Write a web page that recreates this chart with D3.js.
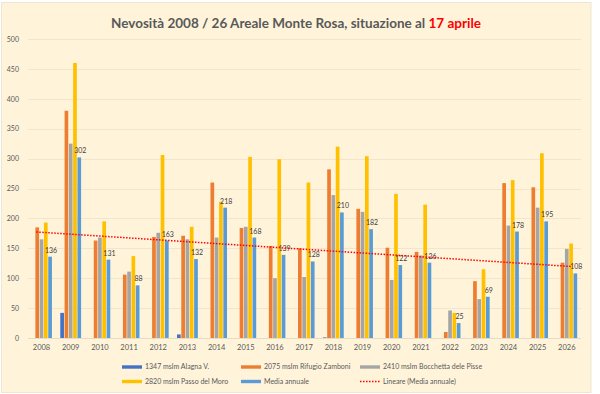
<!DOCTYPE html>
<html>
<head>
<meta charset="utf-8">
<script src="https://cdn.jsdelivr.net/npm/d3@7"></script>
<style>
  body { margin: 0; background: #fff; }
  text { font-family: Lato, "Noto Sans", sans-serif; }
</style>
</head>
<body>
<div id="chart"></div>
<script>
// dati
let years = ['2008', '2009', '2010', '2011', '2012', '2013', '2014', '2015', '2016', '2017',
    '2018', '2019', '2020', '2021', '2022', '2023', '2024', '2025', '2026']
let alagna = [0, 42, 0, 0, 0, 6, 0, 0, 0, 0, 1, 0, 0, 0, 0, 0, 0, 0, 0]
let zamboni = [185, 380, 163, 106, 169, 171, 260, 184, 154, 150, 282, 216, 151, 144, 10, 95, 259, 252, 126]
let pisse = [165, 325, 168, 111, 176, 165, 168, 186, 100, 102, 239, 211, 97, 138, 46, 65, 188, 218, 149]
let moro = [193, 460, 195, 137, 306, 186, 228, 303, 299, 260, 320, 304, 241, 223, 42, 115, 264, 309, 158]
let media = [136, 302, 131, 88, 163, 132, 218, 168, 139, 128, 210, 182, 122, 126, 25, 69, 178, 195, 108]
let yTicks = [0, 50, 100, 150, 200, 250, 300, 350, 400, 450, 500]

let seriesNames = ['1347 mslm Alagna V.', '2075 mslm Rifugio Zamboni', '2410 mslm Bocchetta dele Pisse',
    '2820 mslm Passo del Moro', 'Media annuale']
let seriesColors = ['#4472C4', '#ED7D31', '#A5A5A5', '#FFC000', '#5B9BD5']
let seriesData = [alagna, zamboni, pisse, moro, media]

let width = 600,
    height = 394,
    margin = { top: 39, right: 19, bottom: 56, left: 27 }

let svg = d3.select('#chart').append('svg')
    .attr('width', width)
    .attr('height', height)

svg.append('rect')
    .attr('x', 1.5).attr('y', 2.5)
    .attr('width', 589.5).attr('height', 390)
    .attr('fill', '#FFF4DA')
    .attr('stroke', '#EEE6D4')

svg.append('text')
    .attr('x', 296).attr('y', 28)
    .attr('text-anchor', 'middle')
    .attr('font-size', 13.5)
    .attr('font-weight', 'bold')
    .attr('fill', '#595959')
    .text('Nevosità 2008 / 26 Areale Monte Rosa, situazione al ')
    .append('tspan')
    .attr('fill', '#FF0000')
    .text('17 aprile')

let x = d3.scaleBand()
    .domain(years)
    .range([margin.left, width - margin.right + 0.3])
    .paddingInner(0.245)
    .paddingOuter(0.12)

let xs = d3.scaleBand()
    .domain(d3.range(seriesData.length))
    .range([0, x.bandwidth()])
    .padding(0.14)

let y = d3.scaleLinear()
    .domain([0, 500])
    .range([338, 39])

// griglia
svg.append('g')
    .selectAll('line')
    .data(yTicks)
    .enter().append('line')
    .attr('x1', margin.left + 1)
    .attr('x2', width - margin.right)
    .attr('y1', d => Math.round(y(d)) + 0.5)
    .attr('y2', d => Math.round(y(d)) + 0.5)
    .attr('stroke', d => d === 0 ? '#E6DCC6' : '#F1E6CD')
    .attr('stroke-width', 1)

let yAxis = g => g
    .attr('transform', `translate(${margin.left - 8},0)`)
    .call(d3.axisLeft(y).tickValues(yTicks).tickSize(0).tickPadding(0))
    .call(g => g.select('.domain').remove())
    .call(g => g.selectAll('text').attr('fill', '#595959').attr('font-size', 7))

svg.append('g').call(yAxis)

let xAxis = g => g
    .attr('transform', `translate(0,${y(0)})`)
    .call(d3.axisBottom(x).tickSize(0).tickPadding(7))
    .call(g => g.select('.domain').remove())
    .call(g => g.selectAll('text').attr('fill', '#595959').attr('font-size', 7.5))

svg.append('g').call(xAxis)

// barre
seriesData.forEach((vals, s) => {
    svg.append('g')
        .attr('class', 'serie-' + s)
        .selectAll('rect')
        .data(vals.map((v, i) => ({ year: years[i], value: v })).filter(d => d.value > 0))
        .enter().append('rect')
        .attr('x', d => x(d.year) + xs(s))
        .attr('width', xs.bandwidth())
        .attr('y', d => y(d.value))
        .attr('height', d => y(0) - y(d.value))
        .attr('fill', seriesColors[s])
})

// etichette media annuale
svg.append('g')
    .selectAll('text')
    .data(media.map((v, i) => ({ year: years[i], value: v })))
    .enter().append('text')
    .attr('x', d => x(d.year) + xs(4) + xs.bandwidth() / 2 + 1)
    .attr('y', d => y(d.value) - 4)
    .attr('text-anchor', 'middle')
    .attr('font-size', 7)
    .attr('fill', '#404040')
    .text(d => d.value)

// linea di tendenza (regressione lineare sulla media annuale)
let n = media.length
let mx = d3.mean(d3.range(n))
let my = d3.mean(media)
let slope = d3.sum(media, (v, i) => (i - mx) * (v - my)) / d3.sum(d3.range(n), i => (i - mx) * (i - mx))
let trend = i => my + slope * (i - mx)
let xc = i => x(years[0]) + x.bandwidth() / 2 + i * x.step()

svg.append('line')
    .attr('x1', xc(-0.18)).attr('y1', y(trend(-0.18)))
    .attr('x2', xc(n - 1 + 0.18)).attr('y2', y(trend(n - 1 + 0.18)))
    .attr('stroke', '#FF0000')
    .attr('stroke-width', 1.5)
    .attr('stroke-dasharray', '1.5 1.5')

// legenda
let legendItems = seriesNames.map((name, i) => ({ name: name, color: seriesColors[i], type: 'bar' }))
legendItems.push({ name: 'Lineare (Media annuale)', color: '#FF0000', type: 'line' })
let legendCols = [122, 241, 360]
let legendRows = [367, 381.5]

let legend = svg.append('g').attr('class', 'legend')
    .selectAll('g')
    .data(legendItems)
    .enter().append('g')
    .attr('transform', (d, i) => `translate(${legendCols[i % 3]},${legendRows[Math.floor(i / 3)]})`)

legend.filter(d => d.type === 'bar').append('rect')
    .attr('x', 0).attr('y', -1.7)
    .attr('width', 20).attr('height', 3.4)
    .attr('fill', d => d.color)

legend.filter(d => d.type === 'line').append('line')
    .attr('x1', 0).attr('x2', 20)
    .attr('stroke', d => d.color)
    .attr('stroke-width', 1.5)
    .attr('stroke-dasharray', '1.5 1.5')

legend.append('text')
    .attr('x', 23)
    .attr('dy', '0.35em')
    .attr('font-size', 7)
    .attr('fill', '#595959')
    .text(d => d.name)
</script>
</body>
</html>
